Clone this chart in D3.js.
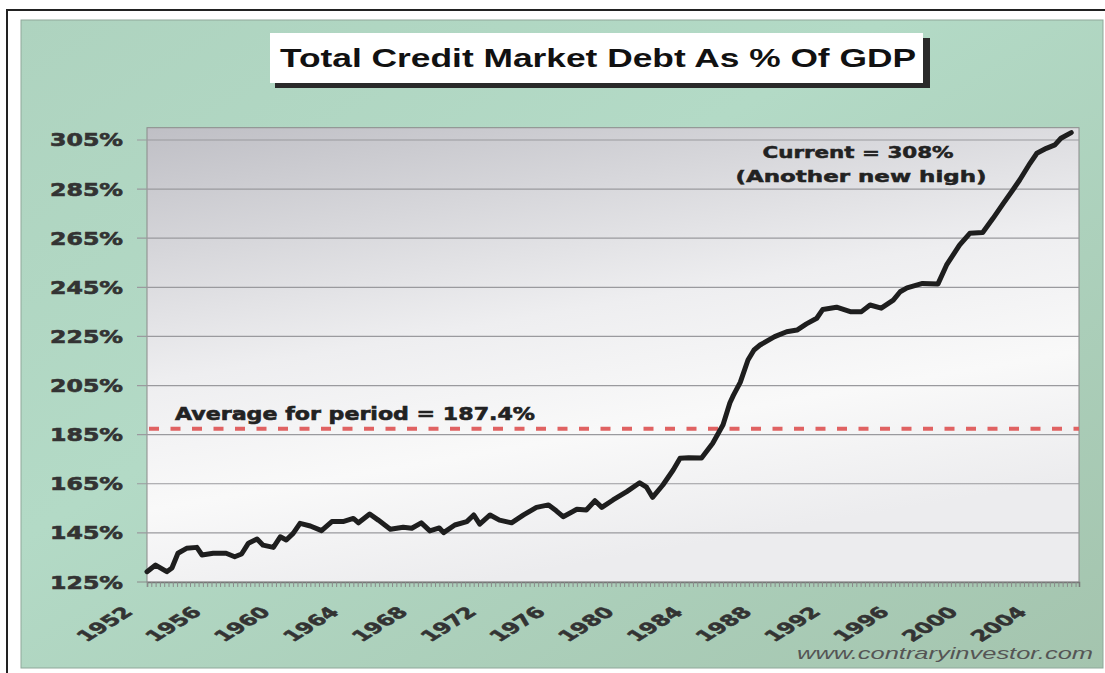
<!DOCTYPE html>
<html>
<head>
<meta charset="utf-8">
<script src="https://cdn.jsdelivr.net/npm/d3@7"></script>
<style>
  body { margin: 0; background: #fff; }
  svg { display: block; }
</style>
</head>
<body>
<div id="chart"></div>
<script>
// values: date (decimal year) and debt as % of GDP
var years = [
  1952.0, 1952.5, 1953.15, 1953.45, 1953.8, 1954.3, 1954.9, 1955.2, 1955.85, 1956.6,
  1957.1, 1957.5, 1957.9, 1958.4, 1958.75, 1959.35, 1959.75, 1960.1, 1960.5, 1960.9,
  1961.5, 1962.15, 1962.75, 1963.4, 1964.0, 1964.3, 1964.95, 1965.45, 1966.15, 1966.9,
  1967.4, 1967.95, 1968.45, 1969.0, 1969.25, 1969.9, 1970.6, 1971.0, 1971.35, 1971.95,
  1972.5, 1973.2, 1973.9, 1974.65, 1975.35, 1975.8, 1976.2, 1977.0, 1977.55, 1978.05,
  1978.45, 1979.1, 1979.9, 1980.65, 1981.05, 1981.4, 1982.0, 1982.6, 1983.0, 1983.5,
  1984.25, 1984.9, 1985.5, 1985.9, 1986.1, 1986.5, 1986.95, 1987.3, 1987.65, 1988.5,
  1989.2, 1989.8, 1990.35, 1990.95, 1991.3, 1992.1, 1992.9, 1993.55, 1994.05, 1994.7,
  1995.4, 1995.8, 1996.2, 1997.1, 1998.0, 1998.5, 1999.25, 1999.85, 2000.6, 2001.2,
  2001.8, 2002.35, 2002.75, 2003.35, 2003.75, 2004.3, 2004.8, 2005.15, 2005.75
];
var debtPct = [
  129.2, 131.9, 129.2, 130.7, 136.7, 138.7, 139.1, 136.0, 136.7, 136.7,
  135.3, 136.4, 140.8, 142.5, 140.0, 139.1, 143.4, 142.1, 144.8, 148.9,
  147.8, 145.9, 149.6, 149.6, 150.9, 149.1, 152.7, 150.2, 146.5, 147.3,
  146.9, 149.1, 145.8, 147.0, 145.1, 148.2, 149.6, 152.3, 148.6, 152.3,
  150.2, 149.1, 152.3, 155.4, 156.4, 154.0, 151.6, 154.6, 154.3, 158.1,
  155.4, 158.4, 161.8, 165.4, 163.6, 159.5, 164.5, 170.6, 175.4, 175.6,
  175.5, 181.5, 189.0, 198.0, 201.0, 206.3, 215.4, 219.5, 221.5, 224.9,
  226.9, 227.6, 230.1, 232.4, 236.0, 236.9, 235.1, 235.1, 237.8, 236.5,
  239.8, 243.2, 244.8, 246.6, 246.4, 254.1, 262.2, 267.0, 267.3, 273.1,
  279.2, 284.6, 288.7, 295.5, 299.6, 301.6, 303.0, 305.7, 308.0
];
var average = 187.4;
var yTicks = [125, 145, 165, 185, 205, 225, 245, 265, 285, 305];
var xLabels = [1952, 1956, 1960, 1964, 1968, 1972, 1976, 1980, 1984, 1988, 1992, 1996, 2000, 2004];

var width = 1105, height = 673;
var left = 147, right = 1079, bottom = 582;

var svg = d3.select("#chart").append("svg")
    .attr("width", width)
    .attr("height", height);

var x = d3.scaleLinear().domain([1952, 2006.2]).range([left, right]);
var y = d3.scaleLinear().domain([125, 310]).range([bottom, 127.7]);
var top_ = y(310);

// gradients for the green panel and the grey plot area
var defs = svg.append("defs");
var g1 = defs.append("linearGradient").attr("id", "panel")
    .attr("x1", 0).attr("y1", 0).attr("x2", 1).attr("y2", 1);
g1.append("stop").attr("offset", "0%").attr("stop-color", "#aed3bf");
g1.append("stop").attr("offset", "40%").attr("stop-color", "#b3dac6");
g1.append("stop").attr("offset", "100%").attr("stop-color", "#a4c4ae");

var g2 = defs.append("linearGradient").attr("id", "plotbg")
    .attr("x1", 0).attr("y1", 0).attr("x2", 0.35).attr("y2", 1);
g2.append("stop").attr("offset", "0%").attr("stop-color", "#bfbfc5");
g2.append("stop").attr("offset", "50%").attr("stop-color", "#eeeef0");
g2.append("stop").attr("offset", "75%").attr("stop-color", "#f9f9f9");
g2.append("stop").attr("offset", "100%").attr("stop-color", "#ececee");

// outer frame and green panel
svg.append("rect")
    .attr("x", 7).attr("y", 10).attr("width", 1110).attr("height", 680)
    .attr("fill", "#fff").attr("stroke", "#222").attr("stroke-width", 2);
svg.append("rect")
    .attr("x", 21).attr("y", 20).attr("width", 1082).attr("height", 648)
    .attr("fill", "url(#panel)").attr("stroke", "#8fa89a").attr("stroke-width", 1);

// title box with shadow
svg.append("rect")
    .attr("x", 275).attr("y", 38).attr("width", 655).attr("height", 50)
    .attr("fill", "#2a2a2a");
svg.append("rect")
    .attr("x", 270).attr("y", 33).attr("width", 653).attr("height", 50)
    .attr("fill", "#fff");
svg.append("text")
    .attr("x", 598).attr("y", 67)
    .attr("text-anchor", "middle")
    .attr("textLength", 636).attr("lengthAdjust", "spacingAndGlyphs")
    .style("font-family", "'Liberation Sans', Arial, sans-serif")
    .style("font-weight", "bold").style("font-size", "25px")
    .attr("fill", "#111")
    .text("Total Credit Market Debt As % Of GDP");

// plot area
svg.append("rect")
    .attr("x", left).attr("y", top_)
    .attr("width", right - left).attr("height", bottom - top_)
    .attr("fill", "url(#plotbg)").attr("stroke", "#8a8a8a").attr("stroke-width", 1);

// horizontal gridlines and y ticks
svg.selectAll(".grid").data(yTicks.slice(1)).enter().append("line")
    .attr("x1", left - 10).attr("x2", right)
    .attr("y1", function(d) { return y(d); })
    .attr("y2", function(d) { return y(d); })
    .attr("stroke", "#9a9a9e").attr("stroke-width", 1.2);

svg.selectAll(".ylab").data(yTicks).enter().append("text")
    .attr("x", 123)
    .attr("y", function(d) { return y(d) + 6.5; })
    .attr("text-anchor", "end")
    .attr("textLength", 73).attr("lengthAdjust", "spacingAndGlyphs")
    .style("font-family", "'DejaVu Sans', sans-serif")
    .style("font-weight", "bold").style("font-size", "17px")
    .attr("fill", "#333").attr("stroke", "#333").attr("stroke-width", 0.6)
    .text(function(d) { return d + "%"; });

// x axis with quarterly minor ticks
var quarters = d3.range(0, 217).map(function(i) { return 1952 + i / 4; });
var xAxis = d3.axisBottom(x).tickValues(quarters).tickSize(5).tickFormat("");
var ax = svg.append("g")
    .attr("transform", "translate(0," + bottom + ")")
    .call(xAxis);
ax.select(".domain").attr("stroke", "#777").attr("stroke-width", 1.5);
ax.selectAll(".tick line").attr("stroke", "#8a8a8a");
svg.append("line")
    .attr("x1", left - 10).attr("x2", left)
    .attr("y1", bottom).attr("y2", bottom)
    .attr("stroke", "#8a8a8a");

svg.selectAll(".xlab").data(xLabels).enter().append("text")
    .attr("transform", function(d) {
        return "translate(" + (x(d) - 13) + ",613) scale(1.6,1) rotate(-45)";
    })
    .attr("text-anchor", "end")
    .style("font-family", "'DejaVu Sans', sans-serif")
    .style("font-weight", "bold").style("font-size", "15px")
    .attr("fill", "#333").attr("stroke", "#333").attr("stroke-width", 0.5)
    .text(function(d) { return d; });

// average line
svg.append("line")
    .attr("x1", left + 2).attr("x2", right)
    .attr("y1", y(average)).attr("y2", y(average))
    .attr("stroke", "#e06262").attr("stroke-width", 4)
    .attr("stroke-dasharray", "10,11.5");

svg.append("text")
    .attr("x", 175).attr("y", 420)
    .attr("textLength", 360).attr("lengthAdjust", "spacingAndGlyphs")
    .style("font-family", "'DejaVu Sans', sans-serif")
    .style("font-weight", "bold").style("font-size", "18px")
    .attr("fill", "#222").attr("stroke", "#222").attr("stroke-width", 0.6)
    .text("Average for period = " + average + "%");

// the debt line
var line = d3.line()
    .x(function(d, i) { return x(years[i]); })
    .y(function(d) { return y(d); });

svg.append("path")
    .datum(debtPct)
    .attr("d", line)
    .attr("fill", "none")
    .attr("stroke", "#1e1e1e")
    .attr("stroke-width", 5)
    .attr("stroke-linejoin", "round")
    .attr("stroke-linecap", "round");

// current value note
svg.append("text")
    .attr("x", 858).attr("y", 158)
    .attr("text-anchor", "middle")
    .attr("textLength", 191).attr("lengthAdjust", "spacingAndGlyphs")
    .style("font-family", "'DejaVu Sans', sans-serif")
    .style("font-weight", "bold").style("font-size", "16px")
    .attr("fill", "#222").attr("stroke", "#222").attr("stroke-width", 0.5)
    .text("Current = " + debtPct[debtPct.length - 1].toFixed(0) + "%");
svg.append("text")
    .attr("x", 861).attr("y", 182)
    .attr("text-anchor", "middle")
    .attr("textLength", 251).attr("lengthAdjust", "spacingAndGlyphs")
    .style("font-family", "'DejaVu Sans', sans-serif")
    .style("font-weight", "bold").style("font-size", "16px")
    .attr("fill", "#222").attr("stroke", "#222").attr("stroke-width", 0.5)
    .text("(Another new high)");

// source watermark
svg.append("text")
    .attr("x", 1093).attr("y", 659)
    .attr("text-anchor", "end")
    .attr("textLength", 296).attr("lengthAdjust", "spacingAndGlyphs")
    .style("font-family", "'Liberation Sans', Arial, sans-serif")
    .style("font-style", "italic").style("font-size", "17px")
    .attr("fill", "#555")
    .text("www.contraryinvestor.com");
</script>
</body>
</html>
